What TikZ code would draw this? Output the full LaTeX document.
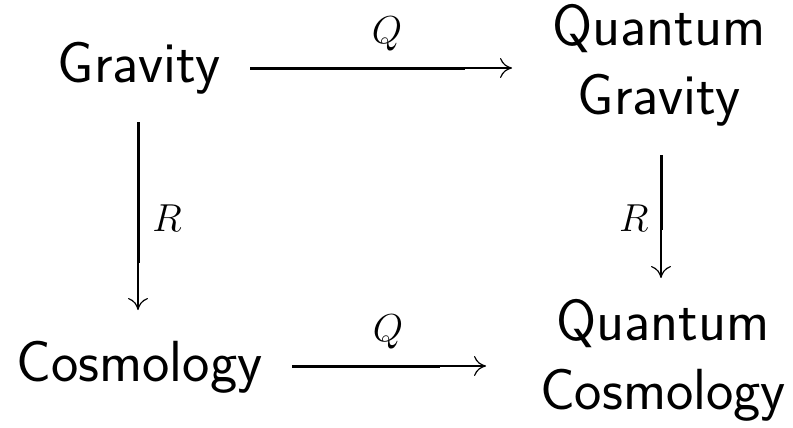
\RequirePackage{fix-cm}
\documentclass[tikz,border=0pt]{standalone}
\usepackage{fontspec}
\usetikzlibrary{arrows.meta}

\begin{document}
\begin{tikzpicture}[
  x=0.5pt, y=-0.5pt,
  every node/.style={inner sep=0pt},
  obj/.style={font=\sffamily\fontsize{29}{34.5}\selectfont, align=center},
  maplabel/.style={font=\fontsize{19.5}{23}\selectfont},
  heavy/.style={line width=1.5pt},
  tipline/.style={line width=0.6pt,
    -{Computer Modern Rightarrow[length=6pt,width=10pt]}}
]

\path[use as bounding box] (0,0) rectangle (793,428);

% Objects of the square.
\node[obj, anchor=base] (grav) at (139,83) {Gravity};
\node[obj] (qgrav) at (659,65.5) {Quantum\\Gravity};
\node[obj, anchor=base] (cosm) at (139.5,381) {Cosmology};
\node[obj] (qcosm) at (663,360.5) {Quantum\\Cosmology};

% Arrow end points (start, end of heavy shaft, tip).
\coordinate (q1s) at (250,68);  \coordinate (q1m) at (465,68);  \coordinate (q1e) at (512,68);
\coordinate (q2s) at (292,366); \coordinate (q2m) at (440,366); \coordinate (q2e) at (486,366);
\coordinate (r1s) at (138,122); \coordinate (r1m) at (138,263); \coordinate (r1e) at (138,310);
\coordinate (r2s) at (661,155); \coordinate (r2m) at (661,230); \coordinate (r2e) at (661,278);

% Quantisation and reduction maps.
\foreach \a in {q1, q2, r1, r2} {
  \draw[heavy] (\a s) -- (\a m);
  \draw[tipline] (\a m) -- (\a e);
}

\node[maplabel, anchor=base] (qtop) at (387,43) {$Q$};
\node[maplabel, anchor=base] (qbot) at (388,341) {$Q$};
\node[maplabel, anchor=base west] (rleft) at (152,231) {$R$};
\node[maplabel, anchor=base east] (rright) at (649,231) {$R$};

\end{tikzpicture}
\end{document}
